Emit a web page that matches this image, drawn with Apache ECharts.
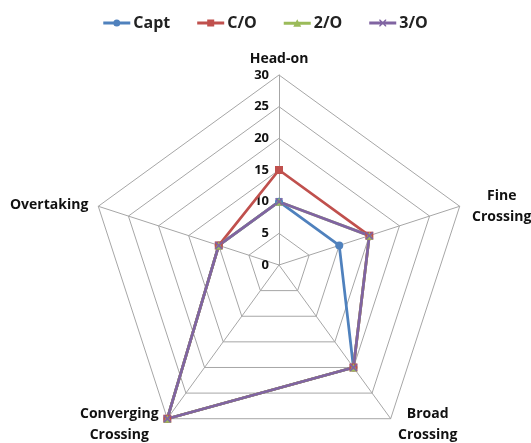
<!DOCTYPE html>
<html>
<head>
<meta charset="utf-8">
<script src="https://cdn.jsdelivr.net/npm/echarts@6/dist/echarts.min.js"></script>
<style>
  html, body { margin: 0; padding: 0; background: #fff; }
  #chart { width: 531px; height: 443px; }
</style>
</head>
<body>
<div id="chart"></div>
<script>
// Encounter situations, in the radar's own (counter-clockwise) order from the top
const indicators = ['Head-on', 'Overtaking', 'Converging\nCrossing', 'Broad\nCrossing', 'Fine\nCrossing'];
const axisMax = 30;
const tickStep = 5;

// Responses by rank, same order as the indicators
const captValues   = [10, 10, 30, 20, 10];
const coValues     = [15, 10, 30, 20, 15];
const twoOValues   = [10, 10, 30, 20, 15];
const threeOValues = [10, 10, 30, 20, 15];

const seriesNames = ['Capt', 'C/O', '2/O', '3/O'];
const seriesColors = ['#4F81BD', '#C0504D', '#9BBB59', '#8064A2'];
const seriesData = [captValues, coValues, twoOValues, threeOValues];

const crossPath = 'path://M0,1.5L1.5,0L5,3.5L8.5,0L10,1.5L6.5,5L10,8.5L8.5,10L5,6.5L1.5,10L0,8.5L3.5,5Z';
const seriesSymbols = ['circle', 'rect', 'triangle', crossPath];

// legend icons: a short line with the series marker in the middle
const legendLine = 'M0,3.6L27,3.6L27,6.4L0,6.4Z';
const legendIcons = [
  'path://' + legendLine + 'M10,5A3.5,3.5,0,1,1,17,5A3.5,3.5,0,1,1,10,5Z',
  'path://' + legendLine + 'M10,1.5L17,1.5L17,8.5L10,8.5Z',
  'path://' + legendLine + 'M13.5,1L17.5,8.5L9.5,8.5Z',
  'path://' + legendLine + 'M10,1.5L11,1.5L13.5,4L16,1.5L17,1.5L17,2.5L14.5,5L17,7.5L17,8.5L16,8.5L13.5,6L11,8.5L10,8.5L10,7.5L12.5,5L10,2.5Z'
];

const textFont = "'Open Sans', 'DejaVu Sans', sans-serif";
const center = [279, 265];
const radius = 190;
const startAngle = 90;

// name placement relative to each axis end: [dx, dy, textAlign, verticalAlign]
const namePlacement = [
  [0, -5, 'center', 'bottom'],
  [-10, -1, 'right', 'middle'],
  [-48, -15, 'center', 'top'],
  [37, -15, 'center', 'top'],
  [42, 0, 'center', 'middle']
];

const nameGraphics = indicators.map((name, i) => {
  const ang = (startAngle + i * 360 / indicators.length) * Math.PI / 180;
  const vx = center[0] + radius * Math.cos(ang);
  const vy = center[1] - radius * Math.sin(ang);
  const p = namePlacement[i];
  return {
    type: 'text',
    x: vx + p[0],
    y: vy + p[1],
    silent: true,
    style: {
      text: name,
      fill: '#111',
      font: 'bold 14px ' + textFont,
      lineHeight: 21,
      align: p[2],
      verticalAlign: p[3]
    }
  };
});

const chart = echarts.init(document.getElementById('chart'), null, { renderer: 'canvas' });

chart.setOption({
  animation: false,
  legend: {
    top: 10,
    left: 'center',
    itemGap: 27,
    itemWidth: 27,
    itemHeight: 10,
    textStyle: { fontFamily: textFont, fontWeight: 'bold', fontSize: 16, color: '#222', padding: [0, 0, 0, -2] },
    data: seriesNames.map((n, i) => ({ name: n, icon: legendIcons[i] }))
  },
  graphic: nameGraphics,
  radar: [
    {
      center: center,
      radius: radius,
      startAngle: startAngle,
      splitNumber: axisMax / tickStep,
      shape: 'polygon',
      indicator: indicators.map(n => ({ name: n, min: 0, max: axisMax })),
      axisName: { show: false },
      splitArea: { show: false },
      splitLine: { lineStyle: { color: '#a6a6a6', width: 1 } },
      axisLine: { lineStyle: { color: '#a6a6a6', width: 1 } },
      axisTick: { show: false },
      axisLabel: { show: false }
    },
    {
      // value scale along the Head-on axis only
      center: center,
      radius: radius,
      startAngle: startAngle,
      splitNumber: axisMax / tickStep,
      shape: 'polygon',
      indicator: [{ name: '', min: 0, max: axisMax }],
      axisName: { show: false },
      splitArea: { show: false },
      splitLine: { show: false },
      axisLine: { show: false },
      axisTick: { show: false },
      axisLabel: {
        show: true,
        color: '#111',
        fontFamily: textFont,
        fontWeight: 'bold',
        fontSize: 13,
        margin: 10
      }
    }
  ],
  series: seriesNames.map((name, i) => ({
    type: 'radar',
    radarIndex: 0,
    name: name,
    symbol: seriesSymbols[i],
    symbolSize: 8,
    lineStyle: { color: seriesColors[i], width: 2.75 },
    itemStyle: { color: seriesColors[i] },
    data: [{ value: seriesData[i], name: name }]
  }))
});
</script>
</body>
</html>
